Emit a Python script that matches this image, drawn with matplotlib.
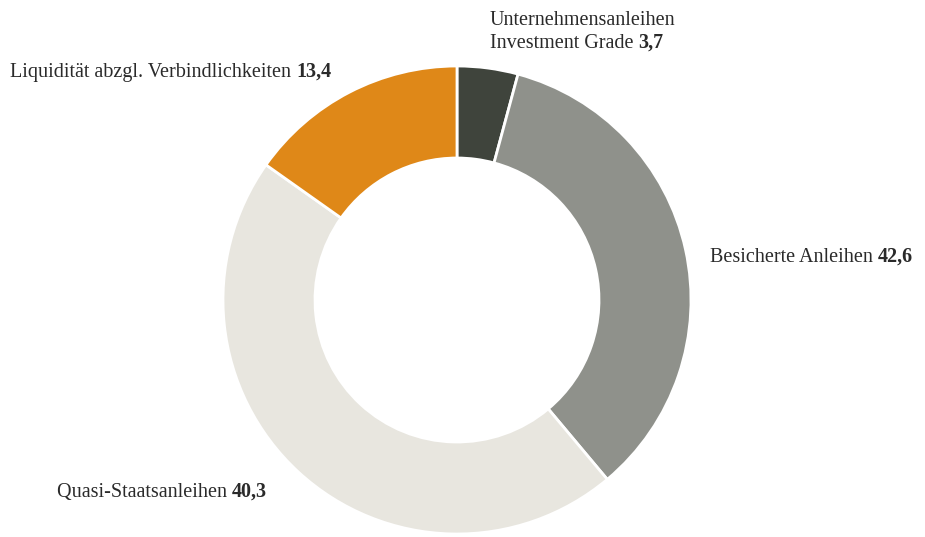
import matplotlib.pyplot as plt

# Kategorien im Uhrzeigersinn ab 12 Uhr
kategorien = ['Unternehmensanleihen\nInvestment Grade', 'Besicherte Anleihen',
              'Quasi-Staatsanleihen', 'Liquidität abzgl. Verbindlichkeiten']
# Beschriftete Werte (in %)
werte_text = ['3,7', '42,6', '40,3', '13,4']
# Segmentgrößen, wie sie in der Vorlage gezeichnet sind
anteile = [4.2, 34.7, 45.9, 15.2]
farben = ['#3f443c', '#8f918b', '#e8e6df', '#df8818']

plt.rcParams['font.family'] = ['Liberation Serif', 'DejaVu Serif']
textfarbe = '#2a2a2a'

fig = plt.figure(figsize=(9.25, 5.37), dpi=100)
ax = fig.add_axes([0, 0, 1, 1])

# Ring zeichnen
ax.pie(anteile, colors=farben, startangle=90, counterclock=False,
       center=(457, 237), radius=234, frame=True,
       wedgeprops=dict(width=92, edgecolor='white', linewidth=2))
ax.set_xlim(0, 925)
ax.set_ylim(0, 537)
ax.set_aspect('equal')
ax.axis('off')

# Beschriftungen: Name normal, Wert fett direkt dahinter
positionen = [(490, 537 - 48), (710, 537 - 262), (57, 537 - 497), (10, 537 - 77)]
fig.canvas.draw()
renderer = fig.canvas.get_renderer()
for name, wert, (x, y) in zip(kategorien, werte_text, positionen):
    zeilen = name.split('\n')
    # obere Zeilen (falls mehrzeilig)
    for i, zeile in enumerate(zeilen[:-1]):
        ax.text(x, y + 23 * (len(zeilen) - 1 - i), zeile, fontsize=14.5,
                color=textfarbe, ha='left', va='baseline')
    t = ax.text(x, y, zeilen[-1] + ' ', fontsize=14.5, color=textfarbe,
                ha='left', va='baseline')
    bb = t.get_window_extent(renderer=renderer)
    x2 = ax.transData.inverted().transform((bb.x1, bb.y0))[0]
    ax.text(x2, y, wert, fontsize=14.5, fontweight='bold', color=textfarbe,
            ha='left', va='baseline')

fig.savefig('out.png', dpi=100)
